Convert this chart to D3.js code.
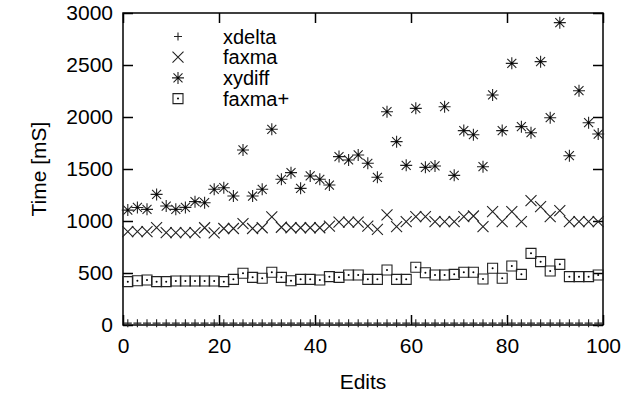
<!DOCTYPE html>
<html>
<head>
<meta charset="utf-8">
<script src="https://cdn.jsdelivr.net/npm/d3@7"></script>
<style>
  body { margin: 0; background: #fff; }
  text { font-family: "Liberation Sans", Arial, sans-serif; fill: #000; }
</style>
</head>
<body>
<div id="chart"></div>
<script>
var edits = [1, 3, 5, 7, 9, 11, 13, 15, 17, 19, 21, 23, 25, 27, 29, 31, 33, 35, 37, 39,
             41, 43, 45, 47, 49, 51, 53, 55, 57, 59, 61, 63, 65, 67, 69, 71, 73, 75, 77, 79,
             81, 83, 85, 87, 89, 91, 93, 95, 97, 99];

var xdelta = [18, 18, 18, 18, 18, 18, 18, 18, 18, 18, 18, 18, 18, 18, 18, 18, 18, 18, 18, 18,
              18, 18, 18, 18, 18, 18, 18, 18, 18, 18, 18, 18, 18, 18, 18, 18, 18, 18, 18, 18,
              18, 18, 18, 18, 18, 18, 18, 18, 18, 18];

var faxma = [897, 897, 897, 936, 888, 888, 888, 888, 935, 885, 928, 928, 975, 928, 935, 1040, 940, 935, 935, 935,
             935, 950, 990, 990, 990, 950, 920, 1058, 945, 993, 1041, 1041, 993, 993, 993, 1041, 1048, 945, 1090, 993,
             1090, 993, 1195, 1138, 1041, 1099, 993, 993, 993, 993];

var xydiff = [1105, 1130, 1112, 1256, 1144, 1112, 1131, 1186, 1176, 1305, 1320, 1240, 1683, 1240, 1305, 1882, 1401, 1465, 1314, 1433,
              1401, 1346, 1619, 1587, 1635, 1555, 1420, 2051, 1763, 1535, 2083, 1516, 1529, 2099, 1439, 1869, 1830, 1522, 2212, 1869,
              2516, 1907, 1849, 2532, 1993, 2907, 1628, 2253, 1945, 1836];

var faxmaPlus = [417, 426, 433, 417, 417, 423, 423, 423, 423, 423, 417, 439, 497, 458, 449, 507, 458, 426, 439, 439,
                 433, 465, 458, 481, 481, 439, 439, 529, 439, 439, 555, 503, 481, 481, 487, 507, 507, 442, 545, 449,
                 567, 487, 689, 609, 519, 583, 465, 465, 465, 481];

var seriesNames = ["xdelta", "faxma", "xydiff", "faxma+"];
var xTicks = [0, 20, 40, 60, 80, 100];
var yTicks = [0, 500, 1000, 1500, 2000, 2500, 3000];

var width = 636, height = 394,
    margin = {left: 123, right: 33, top: 13, bottom: 69},
    fontSize = 21;

var svg = d3.select('#chart').append('svg')
    .attr('width', width)
    .attr('height', height);

var x = d3.scaleLinear().domain([0, 100]).range([margin.left, width - margin.right]);
var y = d3.scaleLinear().domain([0, 3000]).range([height - margin.bottom, margin.top]);

// marker shapes, drawn around 0,0
function plusPath(s) { return 'M' + (-s) + ',0H' + s + 'M0,' + (-s) + 'V' + s; }
function crossPath(s) { return 'M' + (-s) + ',' + (-s) + 'L' + s + ',' + s + 'M' + (-s) + ',' + s + 'L' + s + ',' + (-s); }
function starPath(s) { return plusPath(s) + crossPath(s * 0.75); }
function boxPath(s) { return 'M' + (-s) + ',' + (-s) + 'H' + s + 'V' + s + 'H' + (-s) + 'Z'; }

var markers = [
    {values: xdelta, path: plusPath(4), dot: false},
    {values: faxma, path: crossPath(5.5), dot: false},
    {values: xydiff, path: starPath(6), dot: true},
    {values: faxmaPlus, path: boxPath(5), dot: true}
];

var plotBottom = height - margin.bottom, plotRight = width - margin.right;

// axes with inward ticks
svg.append('g')
    .attr('transform', 'translate(0,' + plotBottom + ')')
    .call(d3.axisBottom(x).tickValues(xTicks).tickSize(-10).tickPadding(13).tickFormat(d3.format('d')))
    .call(function(g) {
        g.select('.domain').remove();
        g.selectAll('text').attr('font-size', fontSize);
    });

svg.append('g')
    .attr('transform', 'translate(0,' + margin.top + ')')
    .call(d3.axisTop(x).tickValues(xTicks).tickSize(-10).tickFormat(''))
    .call(function(g) { g.select('.domain').remove(); });

svg.append('g')
    .attr('transform', 'translate(' + margin.left + ',0)')
    .call(d3.axisLeft(y).tickValues(yTicks).tickSize(-10).tickPadding(10).tickFormat(d3.format('d')))
    .call(function(g) {
        g.select('.domain').remove();
        g.selectAll('text').attr('font-size', fontSize);
    });

svg.append('g')
    .attr('transform', 'translate(' + plotRight + ',0)')
    .call(d3.axisRight(y).tickValues(yTicks).tickSize(-10).tickFormat(''))
    .call(function(g) { g.select('.domain').remove(); });

svg.selectAll('.tick line').attr('stroke', '#000').attr('stroke-width', 1.5);

// frame
svg.append('rect')
    .attr('x', margin.left)
    .attr('y', margin.top)
    .attr('width', plotRight - margin.left)
    .attr('height', plotBottom - margin.top)
    .attr('fill', 'none')
    .attr('stroke', '#000')
    .attr('stroke-width', 1.5);

// points
markers.forEach(function(m, si) {
    var g = svg.append('g').attr('class', 'series-' + si);
    var pts = g.selectAll('g.pt')
        .data(m.values)
        .enter().append('g')
        .attr('class', 'pt')
        .attr('transform', function(d, i) { return 'translate(' + x(edits[i]) + ',' + y(d) + ')'; });
    pts.append('path')
        .attr('d', m.path)
        .attr('fill', 'none')
        .attr('stroke', '#222')
        .attr('stroke-width', 1.1);
    if (m.dot) {
        pts.append('circle').attr('r', 1).attr('fill', '#000');
    }
});

// legend
var legend = svg.selectAll('g.legend')
    .data(seriesNames)
    .enter().append('g')
    .attr('class', 'legend')
    .attr('transform', function(d, i) { return 'translate(178,' + (36.5 + i * 20.7) + ')'; });

legend.append('path')
    .attr('d', function(d, i) { return markers[i].path; })
    .attr('fill', 'none')
    .attr('stroke', '#222')
    .attr('stroke-width', 1.1);

legend.filter(function(d, i) { return markers[i].dot; })
    .append('circle').attr('r', 1).attr('fill', '#000');

legend.append('text')
    .attr('x', 45)
    .attr('y', 7)
    .attr('font-size', 20)
    .text(function(d) { return d; });

// axis titles
svg.append('text')
    .attr('x', (margin.left + plotRight) / 2)
    .attr('y', 389)
    .attr('text-anchor', 'middle')
    .attr('font-size', fontSize)
    .text('Edits');

svg.append('text')
    .attr('transform', 'translate(46,' + ((margin.top + plotBottom) / 2) + ') rotate(-90)')
    .attr('text-anchor', 'middle')
    .attr('font-size', fontSize)
    .text('Time [mS]');
</script>
</body>
</html>
